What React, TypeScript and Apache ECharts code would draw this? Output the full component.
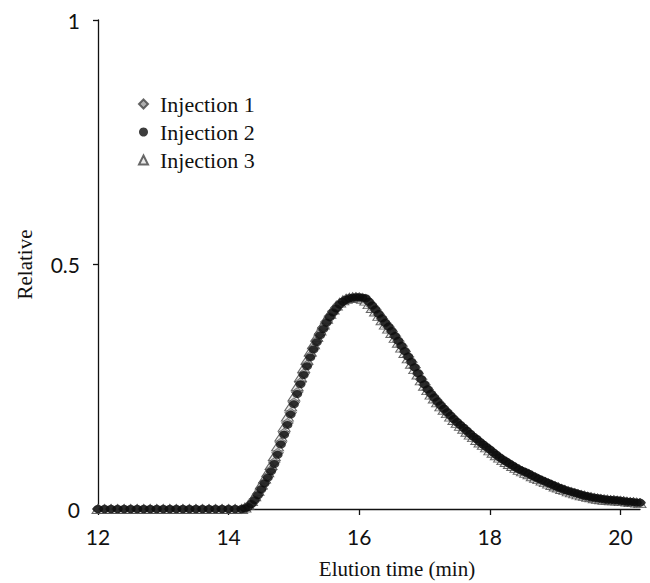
import React, { useEffect, useRef } from "react";
import * as echarts from "echarts";

// Elution times (min)
const times = [
  12.0, 12.1, 12.2, 12.3, 12.4, 12.5, 12.6, 12.7, 12.8, 12.9,
  13.0, 13.1, 13.2, 13.3, 13.4, 13.5, 13.6, 13.7, 13.8, 13.9,
  14.0, 14.1, 14.2,
  14.25, 14.3, 14.35, 14.4, 14.45, 14.5, 14.55, 14.6, 14.65, 14.7,
  14.75, 14.8, 14.85, 14.9, 14.95, 15.0, 15.05, 15.1, 15.15, 15.2,
  15.25, 15.3, 15.35, 15.4, 15.45, 15.5, 15.55, 15.6, 15.65, 15.7,
  15.75, 15.8, 15.85, 15.9, 15.95, 16.0, 16.05, 16.1, 16.15, 16.2,
  16.25, 16.3, 16.35, 16.4, 16.45, 16.5, 16.55, 16.6, 16.65, 16.7,
  16.75, 16.8, 16.85, 16.9, 16.95, 17.0, 17.05, 17.1, 17.15, 17.2,
  17.25, 17.3, 17.35, 17.4, 17.45, 17.5, 17.55, 17.6, 17.65, 17.7,
  17.75, 17.8, 17.85, 17.9, 17.95, 18.0, 18.05, 18.1, 18.15, 18.2,
  18.25, 18.3, 18.35, 18.4, 18.45, 18.5, 18.55, 18.6, 18.65, 18.7,
  18.75, 18.8, 18.85, 18.9, 18.95, 19.0, 19.05, 19.1, 19.15, 19.2,
  19.25, 19.3, 19.35, 19.4, 19.45, 19.5, 19.55, 19.6, 19.65, 19.7,
  19.75, 19.8, 19.85, 19.9, 19.95, 20.0, 20.05, 20.1, 20.15, 20.2,
  20.25, 20.3,
];

const injection1 = [
  0, 0, 0, 0, 0, 0, 0, 0, 0, 0,
  0, 0, 0, 0, 0, 0, 0, 0, 0, 0,
  0, 0, 0,
  0.002, 0.005, 0.011, 0.020, 0.030, 0.042, 0.054, 0.067, 0.080, 0.096,
  0.115, 0.136, 0.156, 0.176, 0.197, 0.218, 0.239, 0.259, 0.277, 0.295,
  0.313, 0.329, 0.344, 0.358, 0.371, 0.383, 0.394, 0.404, 0.412, 0.419,
  0.425, 0.429, 0.431, 0.432, 0.433, 0.433, 0.432, 0.430, 0.423, 0.415,
  0.407, 0.398, 0.389, 0.380, 0.372, 0.363, 0.353, 0.343, 0.333, 0.322,
  0.311, 0.300, 0.289, 0.277, 0.265, 0.254, 0.244, 0.235, 0.227, 0.219,
  0.211, 0.204, 0.197, 0.190, 0.183, 0.177, 0.171, 0.165, 0.159, 0.153,
  0.148, 0.142, 0.137, 0.131, 0.126, 0.121, 0.116, 0.110, 0.105, 0.101,
  0.097, 0.092, 0.088, 0.084, 0.081, 0.077, 0.074, 0.071, 0.068, 0.065,
  0.061, 0.058, 0.055, 0.052, 0.049, 0.047, 0.044, 0.041, 0.039, 0.037,
  0.035, 0.033, 0.031, 0.029, 0.027, 0.025, 0.024, 0.023, 0.022, 0.021,
  0.020, 0.019, 0.018, 0.018, 0.017, 0.017, 0.016, 0.015, 0.014, 0.014,
  0.013, 0.013,
];

const injection2 = [
  0, 0, 0, 0, 0, 0, 0, 0, 0, 0,
  0, 0, 0, 0, 0, 0, 0, 0, 0, 0,
  0, 0, 0,
  0.001, 0.004, 0.010, 0.018, 0.028, 0.040, 0.052, 0.064, 0.077, 0.092,
  0.111, 0.132, 0.152, 0.172, 0.193, 0.214, 0.235, 0.255, 0.274, 0.292,
  0.310, 0.326, 0.341, 0.355, 0.368, 0.381, 0.392, 0.402, 0.410, 0.418,
  0.424, 0.428, 0.431, 0.432, 0.433, 0.433, 0.432, 0.431, 0.424, 0.416,
  0.408, 0.399, 0.390, 0.381, 0.373, 0.364, 0.354, 0.344, 0.334, 0.323,
  0.312, 0.301, 0.290, 0.278, 0.266, 0.255, 0.245, 0.236, 0.228, 0.220,
  0.212, 0.205, 0.198, 0.191, 0.184, 0.178, 0.172, 0.166, 0.160, 0.154,
  0.148, 0.143, 0.137, 0.132, 0.127, 0.122, 0.116, 0.111, 0.106, 0.101,
  0.097, 0.093, 0.089, 0.085, 0.081, 0.078, 0.075, 0.072, 0.068, 0.065,
  0.062, 0.059, 0.056, 0.053, 0.050, 0.047, 0.044, 0.042, 0.039, 0.037,
  0.035, 0.033, 0.031, 0.029, 0.027, 0.026, 0.024, 0.023, 0.022, 0.021,
  0.020, 0.019, 0.019, 0.018, 0.018, 0.017, 0.016, 0.015, 0.015, 0.014,
  0.013, 0.013,
];

const injection3 = [
  0, 0, 0, 0, 0, 0, 0, 0, 0, 0,
  0, 0, 0, 0, 0, 0, 0, 0, 0, 0,
  0, 0, 0,
  0.003, 0.008, 0.016, 0.026, 0.037, 0.050, 0.062, 0.075, 0.090, 0.108,
  0.128, 0.148, 0.168, 0.189, 0.210, 0.230, 0.251, 0.270, 0.288, 0.305,
  0.322, 0.337, 0.352, 0.365, 0.377, 0.389, 0.399, 0.408, 0.416, 0.422,
  0.427, 0.430, 0.432, 0.433, 0.433, 0.432, 0.430, 0.426, 0.419, 0.411,
  0.404, 0.395, 0.386, 0.377, 0.369, 0.360, 0.350, 0.340, 0.330, 0.319,
  0.308, 0.297, 0.286, 0.275, 0.263, 0.252, 0.243, 0.234, 0.226, 0.218,
  0.210, 0.203, 0.196, 0.189, 0.182, 0.176, 0.170, 0.164, 0.158, 0.152,
  0.147, 0.141, 0.136, 0.131, 0.126, 0.120, 0.115, 0.110, 0.105, 0.100,
  0.096, 0.092, 0.088, 0.084, 0.080, 0.077, 0.074, 0.071, 0.067, 0.064,
  0.061, 0.058, 0.055, 0.052, 0.049, 0.046, 0.044, 0.041, 0.039, 0.036,
  0.034, 0.032, 0.030, 0.028, 0.027, 0.025, 0.024, 0.022, 0.021, 0.020,
  0.019, 0.019, 0.018, 0.018, 0.017, 0.016, 0.016, 0.015, 0.014, 0.014,
  0.013, 0.012,
];

const seriesNames = ["Injection 1", "Injection 2", "Injection 3"];
const xTickValues = [12, 14, 16, 18, 20];

const pair = (ys: number[]) => times.map((t, i) => [t, ys[i]]);

export default function App() {
  const ref = useRef<HTMLDivElement>(null);
  useEffect(() => {
    document.body.style.margin = "0";
    if (!ref.current) return;
    const chart = echarts.init(ref.current, null, { renderer: "svg" });
    const serif = "'Liberation Serif', 'Times New Roman', serif";
    const sans = "Lato, 'Open Sans', sans-serif";
    chart.setOption({
      animation: false,
      backgroundColor: "#ffffff",
      grid: { left: 98, right: 10, top: 20, bottom: 74 },
      legend: {
        orient: "vertical",
        left: 133,
        top: 88,
        itemGap: 6,
        itemWidth: 9,
        itemHeight: 9,
        data: seriesNames,
        textStyle: {
          fontFamily: serif,
          fontSize: 22,
          color: "#111",
          padding: [0, 0, 0, 7],
        },
      },
      xAxis: {
        type: "value",
        min: 12,
        max: 20.3,
        interval: 2,
        splitLine: { show: false },
        axisLine: { show: true, lineStyle: { color: "#111", width: 1.3 } },
        axisTick: {
          show: true,
          length: 6,
          customValues: xTickValues,
          lineStyle: { color: "#111", width: 1.3 },
        },
        axisLabel: {
          customValues: xTickValues,
          margin: 17,
          fontFamily: sans,
          fontSize: 21,
          color: "#111",
        },
      },
      yAxis: {
        type: "value",
        min: 0,
        max: 1,
        interval: 0.5,
        name: "Relative",
        nameLocation: "middle",
        nameRotate: 90,
        nameGap: 63,
        nameTextStyle: { fontFamily: serif, fontSize: 21, color: "#111" },
        splitLine: { show: false },
        axisLine: { show: true, lineStyle: { color: "#111", width: 1.3 } },
        axisTick: { show: true, length: 5, lineStyle: { color: "#111", width: 1.3 } },
        axisLabel: { margin: 18, fontFamily: sans, fontSize: 21, color: "#111" },
      },
      graphic: [
        {
          type: "text",
          x: 397,
          y: 569,
          style: {
            text: "Elution time (min)",
            fontFamily: serif,
            fontSize: 21,
            fill: "#111",
            textAlign: "center",
            textVerticalAlign: "middle",
          },
        },
      ],
      series: [
        {
          name: seriesNames[0],
          type: "scatter",
          symbol: "diamond",
          symbolSize: [12, 9],
          data: pair(injection1),
          itemStyle: { color: "#9a9a9a", borderColor: "#444", borderWidth: 0.8 },
          z: 2,
        },
        {
          name: seriesNames[1],
          type: "scatter",
          symbol: "circle",
          symbolSize: [10, 8],
          data: pair(injection2),
          itemStyle: { color: "#0d0d0d" },
          z: 3,
        },
        {
          name: seriesNames[2],
          type: "scatter",
          symbol: "triangle",
          symbolSize: [12, 9],
          data: pair(injection3),
          itemStyle: { color: "#e4e4e4", borderColor: "#444", borderWidth: 1 },
          z: 1,
        },
      ],
    });
    return () => chart.dispose();
  }, []);
  return <div ref={ref} style={{ width: 650, height: 583 }} />;
}
